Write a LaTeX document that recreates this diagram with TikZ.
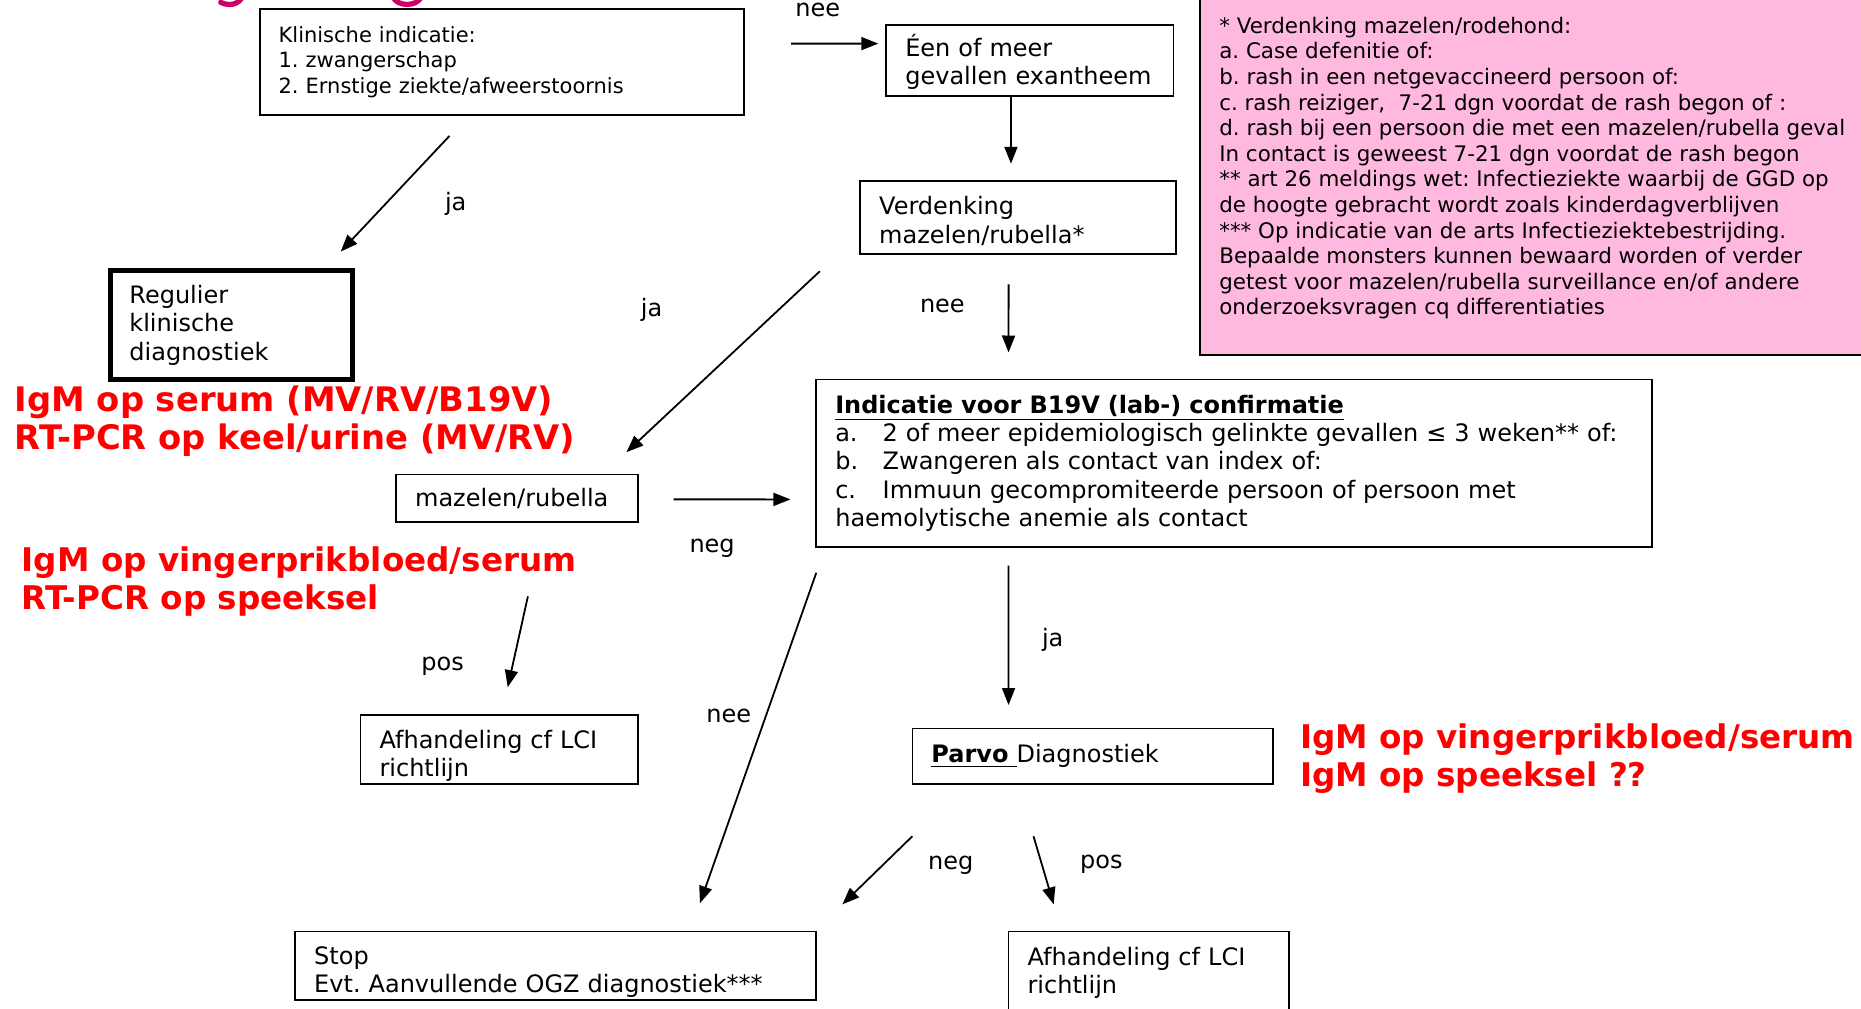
\documentclass[tikz,border=0pt]{standalone}
\usepackage{fontspec}
\setmainfont{DejaVu Sans}
\usetikzlibrary{arrows.meta,calc}
\definecolor{pinkbg}{RGB}{255,184,222}
\definecolor{redtxt}{RGB}{255,0,0}
\definecolor{titlemag}{RGB}{204,0,102}
\begin{document}
\frenchspacing
\begin{tikzpicture}[x=0.59343pt,y=-0.59343pt,
  box/.style={draw=black,line width=0.9pt,anchor=north west,align=left,
    inner xsep=9.5pt,inner ysep=0pt,font=\fontsize{12}{14.2}\selectfont},
  thickbox/.style={box,line width=2.4pt},
  smallbox/.style={box,font=\fontsize{10.5}{12.8}\selectfont},
  lbl/.style={font=\fontsize{12}{14}\selectfont,inner sep=0pt},
  redt/.style={text=redtxt,font=\bfseries\fontsize{16.3}{19}\selectfont,
    align=left,anchor=west,inner sep=0pt},
  arr/.style={line width=0.9pt,-{Triangle[length=8.5pt,width=6.5pt]}}]
\useasboundingbox (0,0) rectangle (1568,850);
\clip (0,0) rectangle (1568,850);
\fill[white] (0,0) rectangle (1568,850);

% cut-off title fragments
\draw[titlemag,line width=2.6pt,line cap=round] (205,-4) .. controls (201,5) and (192,5) .. (186,2);
\draw[titlemag,line width=2.6pt,line cap=round] (331,-3) .. controls (334,6) and (352,6) .. (355,-3);

% pink note
\node[draw=black,fill=pinkbg,line width=0.9pt,anchor=north west,minimum width=338.3pt,
  minimum height=182.8pt,inner sep=0pt] (P) at (1010,-10) {};
\node[anchor=north west,inner sep=0pt,align=left,font=\fontsize{10.7}{12.8}\selectfont] (Ptext) at (1027,14)
 {* Verdenking mazelen/rodehond:\\
  a. Case defenitie of:\\
  b. rash in een netgevaccineerd persoon of:\\
  c. rash reiziger,\ \ 7-21 dgn voordat de rash begon of :\\
  d. rash bij een persoon die met een mazelen/rubella geval\\
  In contact is geweest 7-21 dgn voordat de rash begon\\
  ** art 26 meldings wet: Infectieziekte waarbij de GGD op\\
  de hoogte gebracht wordt zoals kinderdagverblijven\\
  *** Op indicatie van de arts Infectieziektebestrijding.\\
  Bepaalde monsters kunnen bewaard worden of verder\\
  getest voor mazelen/rubella surveillance en/of andere\\
  onderzoeksvragen cq differentiaties};

% boxes
\node[smallbox,text width=223.1pt,minimum height=52.8pt] (A) at (218,7)
 {Klinische indicatie:\\1. zwangerschap\\2. Ernstige ziekte/afweerstoornis};
\node[box,text width=124.6pt,minimum height=35.6pt] (B) at (746,20)
 {\rule{0pt}{12.7pt}Éen of meer\\gevallen exantheem};
\node[box,text width=138.9pt,minimum height=36.2pt] (C) at (724,152)
 {\rule{0pt}{12.7pt}Verdenking\\mazelen/rubella*};
\node[thickbox,text width=102.1pt,minimum height=54.6pt] (D) at (91,226)
 {Regulier\\klinische\\diagnostiek};
\node[box,text width=102.1pt,minimum height=23.7pt] (E) at (333,399)
 {mazelen/rubella};
\node[box,text width=398.8pt,minimum height=83.7pt] (F) at (687,319)
 {\underline{\textbf{Indicatie voor B19V (lab-) confirmatie}}\\
  \mbox{\makebox[23.7pt][l]{a.}2 of meer epidemiologisch gelinkte gevallen ≤ 3 weken** of:}\\
  \mbox{\makebox[23.7pt][l]{b.}Zwangeren als contact van index of:}\\
  \mbox{\makebox[23.7pt][l]{c.}Immuun gecompromiteerde persoon of persoon met}\\
  haemolytische anemie als contact};
\node[box,text width=119.9pt,minimum height=34.4pt] (G) at (303,602)
 {\rule{0pt}{15pt}Afhandeling cf LCI\\richtlijn};
\node[box,text width=161.4pt,minimum height=27.9pt] (H) at (768,613)
 {\underline{\textbf{Parvo\ }}Diagnostiek};
\node[box,text width=241.5pt,minimum height=34.4pt] (I) at (248,784)
 {\rule{0pt}{15pt}Stop\\Evt. Aanvullende OGZ diagnostiek***};
\node[box,text width=121.1pt,minimum height=41.5pt] (J) at (849,784)
 {Afhandeling cf LCI\\richtlijn};

% red annotations
\node[redt,font=\bfseries\fontsize{16.9}{19}\selectfont] (R1) at (12,355) {IgM op serum (MV/RV/B19V)\\RT-PCR op keel/urine (MV/RV)};
\node[redt] (R2) at (18,490) {IgM op vingerprikbloed/serum\\RT-PCR op speeksel};
\node[redt] (R3) at (1095,639) {IgM op vingerprikbloed/serum\\IgM op speeksel ??};

% connectors
\draw[arr] ($(A.east)+(39,-15.5)$) -- ($(B.west)+(-6,-14)$);
\draw[arr] ($(B.south)+(-16,0)$) -- ($(C.north)+(-6,-14)$);
\draw[arr] ($(A.south)+(-44,17)$) -- ($(D.north)+(92,-14)$);
\draw[arr] ($(C.south)+(-167,14)$) -- ($(E.north)+(92,-18)$);
\draw[arr] ($(C.south)+(-8,25)$) -- ($(F.north)+(-190,-22)$);
\draw[arr] ($(E.east)+(29,1)$) -- ($(F.west)+(-21,30.5)$);
\draw[arr] ($(E.south)+(9,62)$) -- ($(G.north)+(7,-23)$);
\draw[arr] ($(F.south)+(-352,21)$) -- ($(I.north)+(121.5,-23)$);
\draw[arr] ($(F.south)+(-190,15)$) -- ($(H.north)+(-71,-19)$);
\draw[arr] ($(H.south)+(-152,43)$) -- ($(I.north)+(241.5,-22)$);
\draw[arr] ($(H.south)+(-50,43)$) -- ($(J.north)+(-80,-22)$);

% labels
\node[lbl] (l1) at (689,8) {nee};
\node[lbl] (l2) at (384,172) {ja};
\node[lbl] (l3) at (549,261) {ja};
\node[lbl] (l4) at (794,258) {nee};
\node[lbl] (l5) at (600,462) {neg};
\node[lbl] (l6) at (373,561) {pos};
\node[lbl] (l7) at (614,603) {nee};
\node[lbl] (l8) at (887,539) {ja};
\node[lbl] (l9) at (801,729) {neg};
\node[lbl] (l10) at (928,728) {pos};
\end{tikzpicture}
\end{document}
